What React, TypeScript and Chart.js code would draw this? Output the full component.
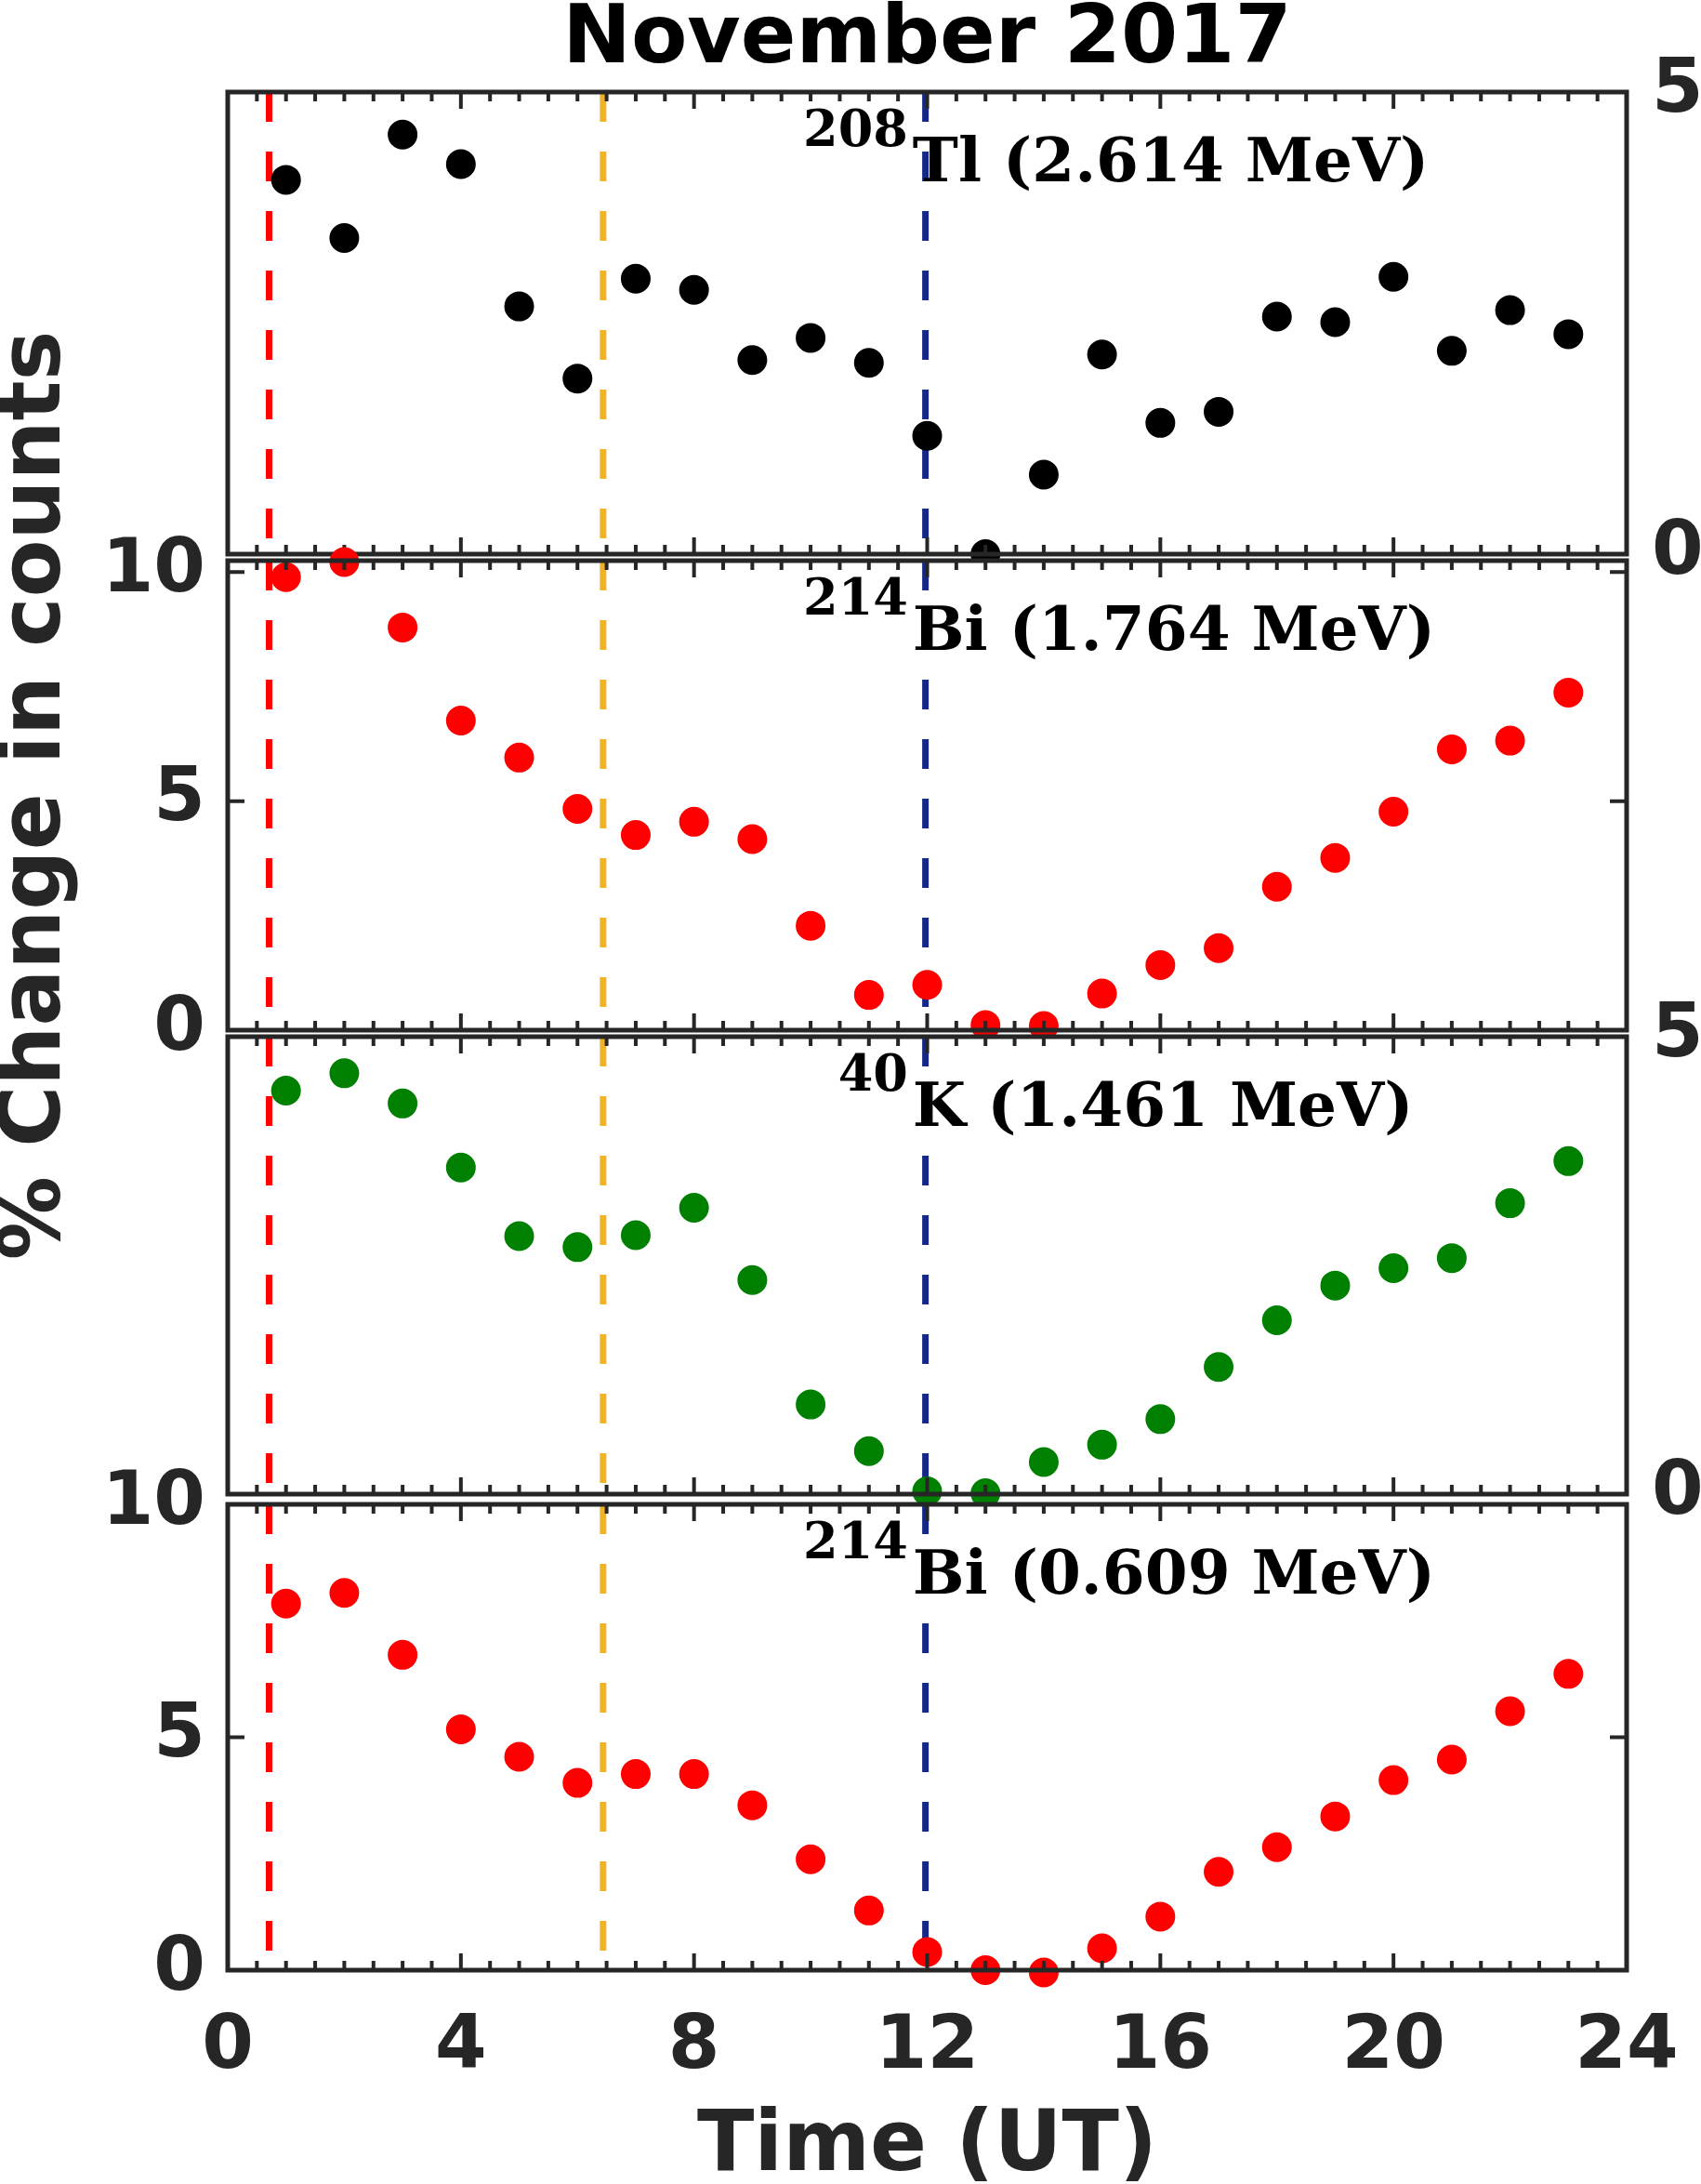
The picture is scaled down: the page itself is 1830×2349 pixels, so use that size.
import React, { useEffect, useRef } from 'react';
import { Chart, registerables } from 'chart.js';

Chart.register(...registerables);

// hour of day (UT)
const hours = [1, 2, 3, 4, 5, 6, 7, 8, 9, 10, 11, 12, 13, 14, 15, 16, 17, 18, 19, 20, 21, 22, 23];

// % change in counts
const tl208 = [4.05, 3.42, 4.54, 4.22, 2.68, 1.90, 2.98, 2.86, 2.10, 2.34, 2.07, 1.28, 0.0, 0.86, 2.16, 1.42, 1.54, 2.57, 2.51, 3.00, 2.20, 2.64, 2.38];
const bi1764 = [9.89, 10.22, 8.79, 6.76, 5.95, 4.83, 4.26, 4.55, 4.17, 2.28, 0.77, 0.99, 0.11, 0.09, 0.80, 1.42, 1.79, 3.13, 3.76, 4.77, 6.13, 6.32, 7.37];
const k40 = [4.41, 4.60, 4.27, 3.57, 2.82, 2.70, 2.83, 3.13, 2.34, 0.98, 0.47, 0.03, 0.01, 0.35, 0.54, 0.82, 1.39, 1.90, 2.28, 2.47, 2.58, 3.18, 3.64];
const bi609 = [7.87, 8.10, 6.77, 5.17, 4.58, 4.02, 4.21, 4.21, 3.54, 2.38, 1.28, 0.39, 0.0, -0.05, 0.47, 1.15, 2.11, 2.64, 3.30, 4.08, 4.52, 5.56, 6.36];

// dashed marker lines
const eventTimes = [0.71, 6.44, 11.97];
const eventColors = ['#ff0000', '#f0b323', '#15288a'];

const xTicks = [0, 4, 8, 12, 16, 20, 24];
const leftTicks = [0, 5, 10];
const rightTicks = [0, 5];

const AXIS = '#262626';
const W = 1830;

type Panel = {
  iso: string;
  name: string;
  values: number[];
  color: string;
  side: 'left' | 'right';
  min: number;
  max: number;
  top: number;
  bottom: number;
  pad: number;
};

const panels: Panel[] = [
  { iso: '208', name: 'Tl (2.614 MeV)', values: tl208, color: '#000000', side: 'right', min: 0, max: 5, top: 99, bottom: 603, pad: 60 },
  { iso: '214', name: 'Bi (1.764 MeV)', values: bi1764, color: '#ff0000', side: 'left', min: 0, max: 10.25, top: 603, bottom: 1108, pad: 300 },
  { iso: '40', name: 'K (1.461 MeV)', values: k40, color: '#008000', side: 'right', min: 0, max: 5, top: 1108, bottom: 1614, pad: 60 },
  { iso: '214', name: 'Bi (0.609 MeV)', values: bi609, color: '#ff0000', side: 'left', min: 0, max: 10, top: 1614, bottom: 2119, pad: 60 },
];

const tickFont = { family: 'DejaVu Sans', size: 80, weight: 'bold' as const, lineHeight: 1 };
const titleFont = { family: 'DejaVu Sans', size: 90, weight: 'bold' as const, lineHeight: 0.9 };

function frame(i: number) {
  const p = panels[i];
  return {
    id: 'frame' + i,
    beforeDraw(chart: any) {
      const { left, top, right, bottom } = chart.chartArea;
      const ctx = chart.ctx;
      ctx.save();
      ctx.fillStyle = '#ffffff';
      ctx.fillRect(left, top, right - left, bottom - top);
      ctx.restore();
    },
    afterDatasetsDraw(chart: any) {
      const { left, top, right, bottom } = chart.chartArea;
      const ctx = chart.ctx;
      const xs = chart.scales.x;
      const ys = chart.scales[p.side === 'left' ? 'yl' : 'yr'];
      ctx.save();
      ctx.strokeStyle = AXIS;
      ctx.lineWidth = 4;
      ctx.beginPath();
      for (let k = 1; k < 48; k++) {
        const v = k / 2;
        const px = xs.getPixelForValue(v);
        const len = v % 4 === 0 ? 18 : 10;
        ctx.moveTo(px, top);
        ctx.lineTo(px, top + len);
        ctx.moveTo(px, bottom);
        ctx.lineTo(px, bottom - len);
      }
      if (p.side === 'left') {
        leftTicks.forEach((v) => {
          const py = ys.getPixelForValue(v);
          if (py <= top + 2 || py >= bottom - 2) return;
          ctx.moveTo(left, py);
          ctx.lineTo(left + 18, py);
          ctx.moveTo(right, py);
          ctx.lineTo(right - 18, py);
        });
      }
      ctx.stroke();
      ctx.lineWidth = 5;
      ctx.strokeRect(left, top, right - left, bottom - top);

      // isotope label
      const mainX = xs.getPixelForValue(11.75);
      const base = top + 96;
      ctx.fillStyle = '#000000';
      ctx.textBaseline = 'alphabetic';
      ctx.textAlign = 'left';
      ctx.font = 'bold 66px "DejaVu Serif"';
      ctx.fillText(p.name, mainX, base);
      ctx.textAlign = 'right';
      ctx.font = 'bold 54px "DejaVu Serif"';
      ctx.fillText(p.iso, mainX - 5, base - 38);
      ctx.restore();
    },
  };
}

function PanelChart({ index }: { index: number }) {
  const canvasRef = useRef<HTMLCanvasElement>(null);
  const p = panels[index];
  const first = index === 0;
  const last = index === panels.length - 1;
  const canvasTop = first ? 0 : p.top - p.pad;
  const height = last ? 2349 - canvasTop : p.bottom + p.pad - canvasTop;

  useEffect(() => {
    if (!canvasRef.current) return;
    const axisId = p.side === 'left' ? 'yl' : 'yr';

    const lines = eventTimes.map((t, k) => ({
      type: 'scatter' as const,
      data: [{ x: t, y: p.max }, { x: t, y: p.min }],
      yAxisID: axisId,
      showLine: true,
      borderColor: eventColors[k],
      borderWidth: 7,
      borderDash: [32, 32],
      pointRadius: 0,
      order: 2,
    }));

    const chart = new Chart(canvasRef.current, {
      type: 'scatter',
      data: {
        datasets: [
          {
            data: hours.map((h, k) => ({ x: h, y: p.values[k] })),
            yAxisID: axisId,
            backgroundColor: p.color,
            borderColor: p.color,
            borderWidth: 2,
            pointRadius: 15,
            pointHoverRadius: 15,
            clip: false as any,
            order: 0,
          },
          ...lines,
        ],
      },
      options: {
        animation: false,
        responsive: false,
        events: [],
        layout: { padding: { left: 0, right: 0, top: first ? 5 : p.pad, bottom: last ? 0 : p.pad } },
        plugins: {
          legend: { display: false },
          tooltip: { enabled: false },
          title: {
            display: first,
            text: 'November 2017',
            fullSize: false,
            color: '#000000',
            font: { family: 'DejaVu Sans', size: 88, weight: 'bold', lineHeight: 0.9 },
            padding: { top: 0, bottom: 14.8 },
          },
        },
        scales: {
          x: {
            type: 'linear',
            position: 'bottom',
            min: 0,
            max: 24,
            display: last,
            grid: { display: false, drawTicks: false },
            border: { display: false },
            afterBuildTicks: (s: any) => {
              s.ticks = xTicks.map((v) => ({ value: v }));
            },
            afterFit: (s: any) => {
              s.height = last ? 230 : 0;
              s.paddingLeft = 0;
              s.paddingRight = 0;
            },
            ticks: { color: AXIS, font: tickFont, padding: 44, maxRotation: 0, autoSkip: false },
            title: { display: true, text: 'Time (UT)', color: AXIS, font: { ...titleFont, lineHeight: 0.85 }, padding: 0 },
          },
          yl: {
            type: 'linear',
            position: 'left',
            min: p.min,
            max: p.max,
            grid: { display: false, drawTicks: false },
            border: { display: false },
            afterBuildTicks: (s: any) => {
              s.ticks = leftTicks.map((v) => ({ value: v }));
            },
            afterFit: (s: any) => {
              s.width = 245;
            },
            ticks: { display: p.side === 'left', color: AXIS, font: tickFont, padding: 24 },
            title: { display: index === 1, text: '% Change in counts', color: AXIS, font: titleFont, padding: 0 },
          },
          yr: {
            type: 'linear',
            position: 'right',
            min: p.min,
            max: p.max,
            grid: { display: false, drawTicks: false },
            border: { display: false },
            afterBuildTicks: (s: any) => {
              s.ticks = rightTicks.map((v) => ({ value: v }));
            },
            afterFit: (s: any) => {
              s.width = W - 1750;
            },
            ticks: { display: p.side === 'right', color: AXIS, font: tickFont, padding: 27 },
          },
        },
      } as any,
      plugins: [frame(index)],
    });

    return () => {
      chart.destroy();
    };
  });

  return (
    <canvas
      ref={canvasRef}
      width={W}
      height={height}
      style={{ position: 'absolute', left: 0, top: canvasTop, width: W, height }}
    />
  );
}

export default function App() {
  return (
    <div style={{ position: 'absolute', left: 0, top: 0, width: W, height: 2349, background: '#ffffff' }}>
      {panels.map((_, i) => (
        <PanelChart key={i} index={i} />
      ))}
    </div>
  );
}
